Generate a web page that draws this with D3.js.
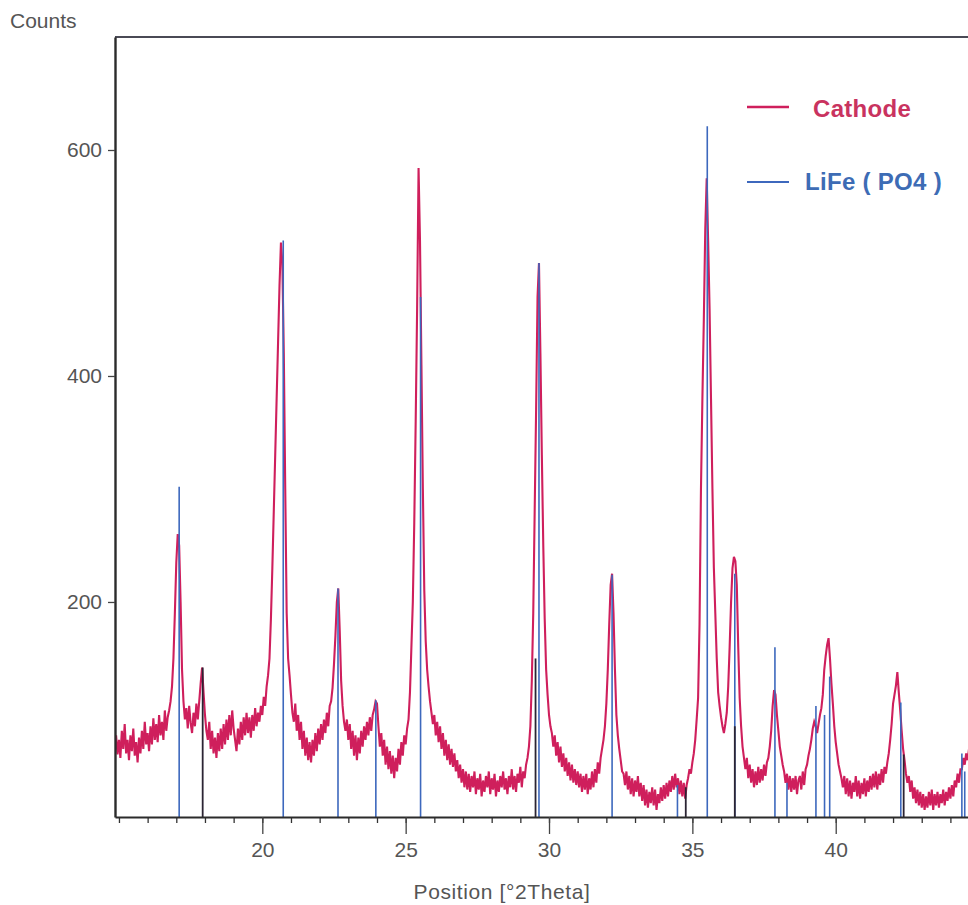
<!DOCTYPE html>
<html>
<head>
<meta charset="utf-8">
<script src="https://cdn.jsdelivr.net/npm/d3@7"></script>
<style>
  html, body { margin: 0; padding: 0; background: #ffffff; }
  svg { display: block; }
  text { font-family: "Liberation Sans", Arial, sans-serif; }
</style>
</head>
<body>
<svg id="chart" width="968" height="905"></svg>
<script>
// ---------------- DATA ----------------
// Cathode scan: counts at uniform 0.05 °2θ steps starting at 14.85
const cathodeStart = 14.85;
const cathodeStep = 0.05;
const cathodeCounts = [
  70, 82, 65,
  78, 62, 86, 70, 92, 66, 78, 60, 82, 68, 88, 64, 76, 58, 80, 66, 86, 70, 94, 74,
  84, 68, 90, 74, 97, 78, 92, 76, 100, 82, 94, 78, 104, 86, 98, 104, 112, 125, 150, 190,
  235, 260, 250, 200, 140, 112, 96, 106, 88, 108, 93, 84, 102, 90, 110, 96, 112, 128, 142, 120,
  100, 86, 78, 94, 70, 86, 66, 80, 62, 84, 68, 88, 70, 92, 74, 96, 78, 100, 82, 104,
  88, 78, 68, 88, 74, 94, 78, 98, 82, 102, 84, 98, 80, 100, 86, 106, 90, 102, 94, 108,
  100, 116, 108, 125, 135, 150, 185, 230, 280, 330, 380, 430, 480, 518, 500, 420, 300, 190, 150, 135,
  118, 102, 94, 110, 86, 100, 78, 94, 70, 86, 64, 80, 60, 76, 58, 78, 64, 84, 68, 88,
  74, 92, 78, 96, 84, 102, 90, 108, 112, 124, 145, 170, 200, 212, 175, 130, 108, 94, 86, 96,
  78, 92, 70, 86, 64, 82, 60, 80, 66, 86, 72, 90, 78, 94, 82, 98, 86, 100, 105, 112,
  110, 90, 72, 84, 64, 78, 56, 72, 52, 68, 48, 64, 44, 62, 50, 70, 56, 76, 64, 82,
  74, 88, 96, 120, 160, 200, 270, 360, 460, 584, 520, 410, 300, 210, 165, 140, 125, 112, 102, 92,
  100, 82, 94, 76, 90, 70, 84, 64, 78, 60, 74, 56, 70, 54, 66, 50, 60, 44, 56, 40,
  52, 36, 50, 34, 48, 32, 46, 36, 50, 30, 44, 34, 48, 28, 42, 32, 46, 36, 50, 30,
  44, 34, 48, 28, 42, 32, 46, 36, 50, 34, 44, 30, 46, 36, 52, 34, 46, 32, 48, 40,
  54, 36, 50, 44, 56, 62, 72, 90, 130, 190, 280, 370, 470, 500, 420, 330, 250, 185, 140, 118,
  100, 90, 84, 72, 82, 64, 76, 58, 72, 54, 66, 50, 62, 46, 58, 42, 56, 40, 52, 38,
  50, 36, 48, 32, 46, 34, 48, 30, 44, 34, 50, 36, 52, 40, 58, 48, 62, 70, 78, 90,
  110, 140, 180, 215, 225, 190, 140, 100, 82, 70, 60, 50, 48, 38, 50, 34, 46, 30, 44, 28,
  42, 32, 46, 28, 40, 24, 38, 20, 34, 18, 32, 22, 36, 20, 34, 16, 30, 22, 36, 24,
  38, 26, 40, 28, 42, 32, 46, 34, 48, 36, 44, 30, 42, 28, 40, 26, 38, 44, 52, 48,
  58, 66, 78, 96, 115, 180, 300, 380, 450, 530, 575, 520, 460, 380, 300, 230, 190, 150, 120, 108,
  98, 90, 84, 92, 102, 125, 160, 200, 230, 240, 236, 215, 160, 115, 90, 72, 62, 52, 62, 44,
  56, 40, 52, 36, 50, 38, 54, 40, 52, 42, 56, 46, 58, 62, 72, 86, 108, 122, 118, 100,
  86, 72, 64, 56, 50, 40, 48, 34, 46, 32, 44, 34, 46, 30, 42, 46, 34, 50, 38, 52,
  56, 64, 70, 78, 88, 94, 90, 84, 92, 100, 106, 118, 140, 152, 162, 168, 150, 128, 110, 90,
  76, 66, 56, 50, 44, 36, 46, 30, 44, 28, 42, 26, 40, 32, 46, 28, 42, 26, 40, 30,
  44, 28, 42, 32, 46, 34, 48, 36, 50, 34, 48, 38, 52, 40, 54, 48, 58, 66, 78, 92,
  110, 118, 126, 138, 120, 104, 86, 70, 60, 48, 40, 46, 32, 42, 26, 36, 22, 34, 20, 32,
  18, 30, 16, 28, 18, 32, 20, 34, 16, 30, 20, 32, 18, 30, 22, 34, 20, 32, 24, 36,
  26, 38, 28, 42, 36, 48, 40, 52, 52, 62, 56, 66, 60, 70
];

// LiFe(PO4) reference pattern: stick positions (°2θ) and heights (counts)
const lfpPositions = [17.10, 20.73, 22.64, 23.96, 25.52, 29.65, 32.20, 34.48, 35.52, 36.48, 37.88, 38.30, 39.31, 39.61, 39.79, 42.27, 44.40, 44.50];
const lfpCounts    = [302,   520,   212,   113,   470,   500,   224,   38,    621,   225,   160,   40,    108,   100,   134,   111,   66,    50];

// Additional dark reference sticks
const darkPositions = [17.92, 29.53, 34.77, 36.48, 42.37];
const darkCounts    = [142,   150,   36,    90,    65];

// Axes
const xMajorTicks = [20, 25, 30, 35, 40];
const yMajorTicks = [200, 400, 600];
const xDomain = [14.862, 44.614];
const yDomain = [9.7, 700];

const seriesNames = ["Cathode", "LiFe ( PO4 )"];
const seriesColors = ["#cf1f5c", "#3d68bd"];

// ---------------- CHART ----------------
const svg = d3.select("#chart");
const W = 968, H = 905;
const m = { left: 115, top: 37, right: 968, bottom: 817 };

const x = d3.scaleLinear().domain(xDomain).range([m.left, m.right]);
const y = d3.scaleLinear().domain(yDomain).range([m.bottom, m.top]);

svg.append("rect").attr("width", W).attr("height", H).attr("fill", "#ffffff");

svg.append("defs").append("clipPath").attr("id", "plotclip")
  .append("rect").attr("x", m.left + 1).attr("y", m.top)
  .attr("width", m.right - m.left).attr("height", m.bottom - m.top);

const plot = svg.append("g").attr("clip-path", "url(#plotclip)");

const cathodeData = cathodeCounts.map((c, i) => ({ t: cathodeStart + i * cathodeStep, c }));

plot.append("path")
  .datum(cathodeData)
  .attr("fill", "none")
  .attr("stroke", seriesColors[0])
  .attr("stroke-width", 2.1)
  .attr("stroke-linejoin", "miter")
  .attr("d", d3.line().x(d => x(d.t)).y(d => y(d.c)));

const lfp = lfpPositions.map((p, i) => ({ p, c: lfpCounts[i] }));
plot.selectAll("line.lfp").data(lfp).join("line")
  .attr("class", "lfp")
  .attr("x1", d => x(d.p)).attr("x2", d => x(d.p))
  .attr("y1", y(yDomain[0])).attr("y2", d => y(d.c))
  .attr("stroke", seriesColors[1]).attr("stroke-width", 1.6);

const dark = darkPositions.map((p, i) => ({ p, c: darkCounts[i] }));
plot.selectAll("line.dark").data(dark).join("line")
  .attr("class", "dark")
  .attr("x1", d => x(d.p)).attr("x2", d => x(d.p))
  .attr("y1", y(yDomain[0])).attr("y2", d => y(d.c))
  .attr("stroke", "#2b2433").attr("stroke-width", 1.8);

// frame: top line
svg.append("line")
  .attr("x1", m.left).attr("x2", m.right)
  .attr("y1", m.top).attr("y2", m.top)
  .attr("stroke", "#4a4a55").attr("stroke-width", 2);

// X axis
const xMinor = d3.range(15, 45, 1);
const gxMinor = svg.append("g").attr("transform", `translate(0,${m.bottom})`)
  .call(d3.axisBottom(x).tickValues(xMinor).tickSize(6).tickFormat(""));
gxMinor.select(".domain").remove();
gxMinor.selectAll("line").attr("stroke", "#333").attr("stroke-width", 1.3);

const gx = svg.append("g").attr("transform", `translate(0,${m.bottom})`)
  .call(d3.axisBottom(x).tickValues(xMajorTicks).tickSize(17).tickPadding(8).tickSizeOuter(0));
gx.select(".domain").attr("stroke", "#2b2b2b").attr("stroke-width", 2.2);
gx.selectAll(".tick line").attr("stroke", "#444").attr("stroke-width", 1.3);
gx.selectAll(".tick text")
  .attr("fill", "#555")
  .style("font-family", "'Liberation Sans', Arial, sans-serif")
  .style("font-size", "21px");

// Y axis
const gy = svg.append("g").attr("transform", `translate(${m.left},0)`)
  .call(d3.axisLeft(y).tickValues(yMajorTicks).tickSize(7).tickPadding(6).tickSizeOuter(0));
gy.select(".domain").attr("stroke", "#2b2b2b").attr("stroke-width", 2.4);
gy.selectAll(".tick line").attr("stroke", "#444").attr("stroke-width", 1.3);
gy.selectAll(".tick text")
  .attr("fill", "#555")
  .style("font-family", "'Liberation Sans', Arial, sans-serif")
  .style("font-size", "21px");

// Axis titles
svg.append("text")
  .attr("x", 10).attr("y", 28)
  .attr("fill", "#555")
  .style("font-size", "21px")
  .text("Counts");

svg.append("text")
  .attr("x", 502).attr("y", 899)
  .attr("text-anchor", "middle")
  .attr("fill", "#555")
  .style("font-size", "21px")
  .style("letter-spacing", "0.6px")
  .text("Position [°2Theta]");

// Legend
const legendY = [107, 182];
const legendTextX = [813, 805];
const legendTextY = [117, 190];
const legend = svg.append("g");
seriesNames.forEach((name, i) => {
  legend.append("line")
    .attr("x1", 747).attr("x2", 789)
    .attr("y1", legendY[i]).attr("y2", legendY[i])
    .attr("stroke", seriesColors[i])
    .attr("stroke-width", i === 0 ? 2.6 : 2);
  legend.append("text")
    .attr("x", legendTextX[i]).attr("y", legendTextY[i])
    .attr("fill", i === 0 ? "#c9335f" : "#3d6cb5")
    .style("font-size", "24px")
    .style("font-weight", "bold")
    .style("letter-spacing", "0.3px")
    .text(name);
});
</script>
</body>
</html>
